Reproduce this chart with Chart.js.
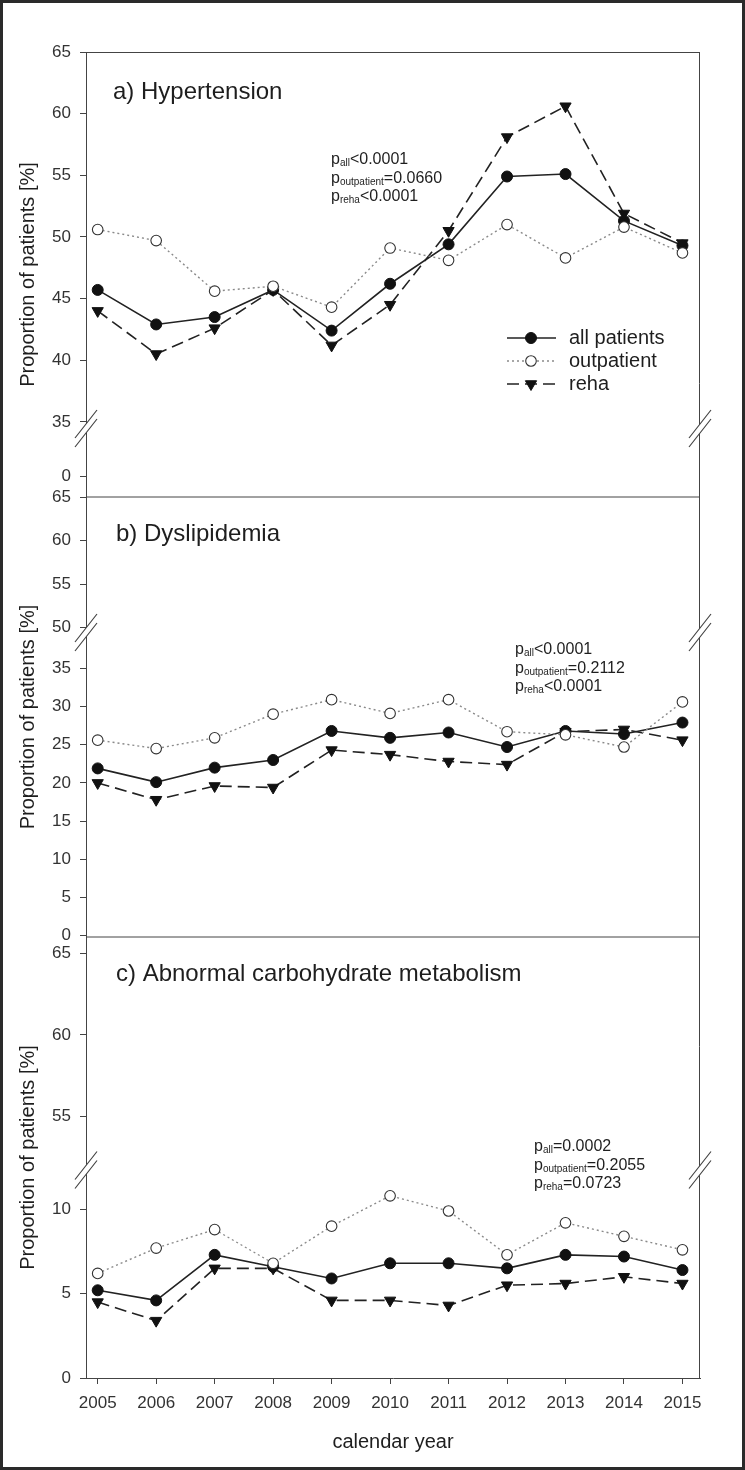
<!DOCTYPE html>
<html>
<head>
<meta charset="utf-8">
<script src="https://cdn.jsdelivr.net/npm/chart.js@4/dist/chart.umd.min.js"></script>
<style>
html,body{margin:0;padding:0;background:#fff;}
#wrap{position:relative;width:745px;height:1470px;background:#fff;}
canvas{display:block;}
</style>
</head>
<body>
<div id="wrap"><canvas id="c" width="745" height="1470"></canvas></div>
<script>
// ---------- data ----------
const years = [2005, 2006, 2007, 2008, 2009, 2010, 2011, 2012, 2013, 2014, 2015];

const hypAll  = [45.7, 42.9, 43.5, 45.7, 42.4, 46.2, 49.4, 54.9, 55.1, 51.3, 49.3];
const hypOut  = [50.6, 49.7, 45.6, 46.0, 44.3, 49.1, 48.1, 51.0, 48.3, 50.8, 48.7];
const hypReha = [44.0, 40.5, 42.6, 45.7, 41.2, 44.5, 50.5, 58.1, 60.6, 51.9, 49.5];

const dysAll  = [21.9, 20.1, 22.0, 23.0, 26.8, 25.9, 26.6, 24.7, 26.8, 26.4, 27.9];
const dysOut  = [25.6, 24.5, 25.9, 29.0, 30.9, 29.1, 30.9, 26.7, 26.3, 24.7, 30.6];
const dysReha = [20.0, 17.8, 19.6, 19.4, 24.3, 23.7, 22.8, 22.4, 26.7, 27.0, 25.6];

const carbAll  = [5.2, 4.6, 7.3, 6.6, 5.9, 6.8, 6.8, 6.5, 7.3, 7.2, 6.4];
const carbOut  = [6.2, 7.7, 8.8, 6.8, 9.0, 10.8, 9.9, 7.3, 9.2, 8.4, 7.6];
const carbReha = [4.5, 3.4, 6.5, 6.5, 4.6, 4.6, 4.3, 5.5, 5.6, 6.0, 5.6];

const ticksAUpper = [35, 40, 45, 50, 55, 60, 65];
const ticksALower = [0];
const ticksBUpper = [50, 55, 60, 65];
const ticksBLower = [0, 5, 10, 15, 20, 25, 30, 35];
const ticksCUpper = [55, 60, 65];
const ticksCLower = [0, 5, 10];

const seriesLabels = ['all patients', 'outpatient', 'reha'];
const panelTitles = ['a) Hypertension', 'b) Dyslipidemia', 'c) Abnormal carbohydrate metabolism'];
const pTexts = [
  [['all', '<0.0001'], ['outpatient', '=0.0660'], ['reha', '<0.0001']],
  [['all', '<0.0001'], ['outpatient', '=0.2112'], ['reha', '<0.0001']],
  [['all', '=0.0002'], ['outpatient', '=0.2055'], ['reha', '=0.0723']]
];
const yTitle = 'Proportion of patients [%]';
const xTitle = 'calendar year';

// ---------- styles ----------
const FONT = "'Liberation Sans', Arial, Helvetica, sans-serif";
const INK = '#1e1e1e';
const AXIS = '#444';

const styles = [
  {borderColor:'#222', borderWidth:1.6, borderDash:[], pointStyle:'circle', pointRotation:0, pointRadius:5.5,
   pointBackgroundColor:'#111', pointBorderColor:'#111', pointBorderWidth:1},
  {borderColor:'#8a8a8a', borderWidth:1.4, borderDash:[2,3], pointStyle:'circle', pointRotation:0, pointRadius:5.3,
   pointBackgroundColor:'#fff', pointBorderColor:'#333', pointBorderWidth:1.1},
  {borderColor:'#222', borderWidth:1.6, borderDash:[12,6], pointStyle:'triangle', pointRotation:180, pointRadius:6.5,
   pointBackgroundColor:'#111', pointBorderColor:'#111', pointBorderWidth:1}
];

function mk(label, values, axis, st) {
  return Object.assign({
    label, yAxisID: axis, xAxisID: 'x',
    data: years.map((x, i) => ({x, y: values[i]})),
    fill: false, tension: 0, showLine: true, pointHoverRadius: 5
  }, st);
}

const datasets = [
  mk(seriesLabels[1], hypOut, 'yA1', styles[1]),
  mk(seriesLabels[2], hypReha, 'yA1', styles[2]),
  mk(seriesLabels[0], hypAll, 'yA1', styles[0]),
  mk(seriesLabels[1], dysOut, 'yB2', styles[1]),
  mk(seriesLabels[2], dysReha, 'yB2', styles[2]),
  mk(seriesLabels[0], dysAll, 'yB2', styles[0]),
  mk(seriesLabels[1], carbOut, 'yC2', styles[1]),
  mk(seriesLabels[2], carbReha, 'yC2', styles[2]),
  mk(seriesLabels[0], carbAll, 'yC2', styles[0])
];

function yScale(min, max, ticks, weight, stackWeight) {
  return {
    type: 'linear', position: 'left', stack: 'panels', stackWeight, weight, min, max,
    afterBuildTicks: s => { s.ticks = ticks.map(v => ({value: v})); },
    afterFit: s => { s.width = 86; },
    grid: {drawOnChartArea: false, drawTicks: true, tickLength: 6, color: AXIS, lineWidth: 1},
    border: {display: true, color: AXIS, width: 1},
    ticks: {font: {size: 17, family: FONT}, color: '#333', padding: 9, autoSkip: false,
            callback: v => String(v)}
  };
}

// ---------- decorations ----------
function drawMarker(ctx, st, x, y) {
  ctx.save();
  ctx.setLineDash([]);
  ctx.fillStyle = st.pointBackgroundColor;
  ctx.strokeStyle = st.pointBorderColor;
  ctx.lineWidth = st.pointBorderWidth;
  const r = st.pointRadius;
  ctx.beginPath();
  if (st.pointStyle === 'triangle') {
    ctx.moveTo(x, y + r);
    ctx.lineTo(x - r * Math.sin(Math.PI / 3), y - r / 2);
    ctx.lineTo(x + r * Math.sin(Math.PI / 3), y - r / 2);
    ctx.closePath();
  } else {
    ctx.arc(x, y, r, 0, Math.PI * 2);
  }
  ctx.fill();
  ctx.stroke();
  ctx.restore();
}

function breakMark(ctx, x, y) {
  const hx = 11, hy = 14, off = 4.5;
  ctx.save();
  ctx.setLineDash([]);
  ctx.fillStyle = '#fff';
  ctx.beginPath();
  ctx.moveTo(x - hx, y - off + hy); ctx.lineTo(x + hx, y - off - hy);
  ctx.lineTo(x + hx, y + off - hy); ctx.lineTo(x - hx, y + off + hy);
  ctx.closePath(); ctx.fill();
  ctx.strokeStyle = AXIS; ctx.lineWidth = 1.2;
  ctx.beginPath();
  ctx.moveTo(x - hx, y - off + hy); ctx.lineTo(x + hx, y - off - hy);
  ctx.moveTo(x - hx, y + off + hy); ctx.lineTo(x + hx, y + off - hy);
  ctx.stroke();
  ctx.restore();
}

function pLine(ctx, x, yBase, sub, rest) {
  ctx.font = `16px ${FONT}`;
  ctx.fillText('p', x, yBase);
  const w = ctx.measureText('p').width;
  ctx.font = `10px ${FONT}`;
  ctx.fillText(sub, x + w, yBase + 2);
  const w2 = ctx.measureText(sub).width;
  ctx.font = `16px ${FONT}`;
  ctx.fillText(rest, x + w + w2, yBase);
}

const deco = {
  id: 'deco',
  beforeDatasetsDraw(chart) {
    const ctx = chart.ctx, a = chart.chartArea, s = chart.scales;
    ctx.save();
    ctx.strokeStyle = AXIS; ctx.lineWidth = 1;
    ctx.beginPath();
    ctx.moveTo(a.left, a.top + 0.5); ctx.lineTo(a.right, a.top + 0.5);
    ctx.moveTo(a.right - 0.5, a.top); ctx.lineTo(a.right - 0.5, a.bottom);
    ctx.moveTo(a.left, s.yA2.bottom); ctx.lineTo(a.right, s.yA2.bottom);
    ctx.moveTo(a.left, s.yB2.bottom); ctx.lineTo(a.right, s.yB2.bottom);
    ctx.stroke();
    ctx.restore();
  },
  afterDraw(chart) {
    const ctx = chart.ctx, a = chart.chartArea, s = chart.scales;
    // axis breaks
    [s.yA1.bottom, s.yB1.bottom, s.yC1.bottom].forEach(yb => {
      breakMark(ctx, a.left, yb);
      breakMark(ctx, a.right, yb);
    });
    ctx.save();
    ctx.fillStyle = INK;
    // y titles
    const panels = [[s.yA1.top, s.yA2.bottom], [s.yB1.top, s.yB2.bottom], [s.yC1.top, s.yC2.bottom]];
    ctx.font = `20px ${FONT}`;
    ctx.textAlign = 'center'; ctx.textBaseline = 'alphabetic';
    panels.forEach(([t, b]) => {
      ctx.save();
      ctx.translate(34, (t + b) / 2);
      ctx.rotate(-Math.PI / 2);
      ctx.fillText(yTitle, 0, 0);
      ctx.restore();
    });
    // panel titles
    ctx.textAlign = 'left';
    ctx.font = `24px ${FONT}`;
    const titlePos = [[113, 99], [116, 541], [116, 981]];
    panelTitles.forEach((t, i) => ctx.fillText(t, titlePos[i][0], titlePos[i][1]));
    // p values
    const pPos = [[331, 164], [515, 654], [534, 1151]];
    pTexts.forEach((lines, i) => {
      lines.forEach((ln, j) => pLine(ctx, pPos[i][0], pPos[i][1] + j * 18.5, ln[0], ln[1]));
    });
    // legend
    const lx0 = 507, lx1 = 556, mx = 531, tx = 569, ly0 = 338, ldy = 23;
    seriesLabels.forEach((lab, i) => {
      const st = styles[i], y = ly0 + i * ldy;
      ctx.save();
      ctx.strokeStyle = st.borderColor; ctx.lineWidth = st.borderWidth;
      ctx.setLineDash(st.borderDash);
      ctx.beginPath(); ctx.moveTo(lx0, y); ctx.lineTo(lx1, y); ctx.stroke();
      ctx.restore();
      drawMarker(ctx, st, mx, y);
      ctx.font = `20px ${FONT}`;
      ctx.textBaseline = 'middle';
      ctx.fillText(lab, tx, y);
      ctx.textBaseline = 'alphabetic';
    });
    // outer frame
    ctx.strokeStyle = '#2a2a2a'; ctx.lineWidth = 3; ctx.setLineDash([]);
    ctx.strokeRect(1.5, 1.5, chart.width - 3, chart.height - 3);
    ctx.restore();
  }
};

new Chart(document.getElementById('c'), {
  type: 'line',
  data: {datasets},
  options: {
    responsive: false, devicePixelRatio: 1, animation: false,
    layout: {padding: {left: 0, top: 52, right: 45, bottom: 0}},
    plugins: {legend: {display: false}, tooltip: {enabled: false}},
    scales: {
      x: {
        type: 'linear', position: 'bottom', min: 2004.8, max: 2015.3,
        afterBuildTicks: s => { s.ticks = years.map(v => ({value: v})); },
        afterFit: s => { s.height = 92; },
        grid: {drawOnChartArea: false, drawTicks: true, tickLength: 6, color: AXIS},
        border: {display: true, color: AXIS, width: 1},
        ticks: {font: {size: 17, family: FONT}, color: '#333', padding: 9, maxRotation: 0,
                autoSkip: false, callback: v => String(v)},
        title: {display: true, text: xTitle, font: {size: 20, family: FONT}, color: INK,
                padding: {top: 0, bottom: 16}}
      },
      yA1: yScale(34.46, 65, ticksAUpper, 6, 376.5),
      yA2: yScale(-1.70, 3.85, ticksALower, 5, 68.5),
      yB1: yScale(49.43, 65, ticksBUpper, 4, 135.5),
      yB2: yScale(-0.17, 39.69, ticksBLower, 3, 304.5),
      yC1: yScale(51.72, 66.0, ticksCUpper, 2, 233),
      yC2: yScale(0, 12.33, ticksCLower, 1, 208)
    }
  },
  plugins: [deco]
});
</script>
</body>
</html>
